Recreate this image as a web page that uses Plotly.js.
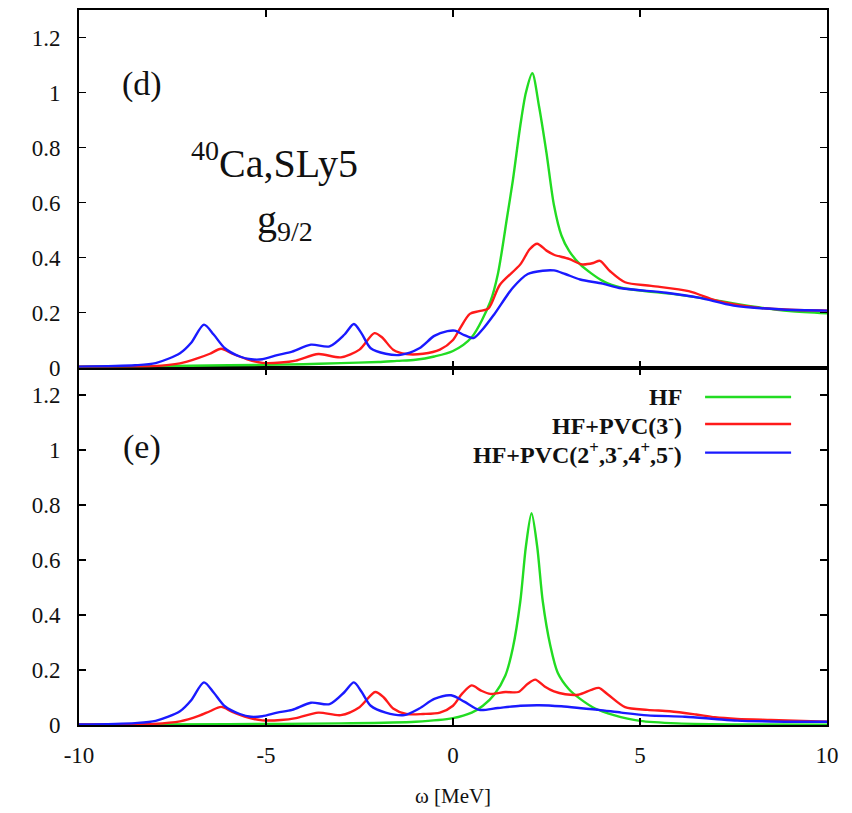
<!DOCTYPE html>
<html>
<head>
<meta charset="utf-8">
<script src="https://cdn.plot.ly/plotly-3.0.1.min.js"></script>
<style>html,body{margin:0;padding:0;background:#fff;}#chart{width:852px;height:813px;}</style>
</head>
<body>
<div id="chart"></div>
<script>
// ---- Panel (d): top ----
const d_hf_x = [-10,-8,-6,-4,-3,-2,-1.5,-1,-0.5,0,0.5,1.0,1.2,1.45,1.6,1.8,1.95,2.12,2.3,2.5,2.7,2.9,3.1,3.4,4.0,4.5,5,6,7,8,9,10];
const d_hf_y = [0.003,0.005,0.008,0.012,0.016,0.02,0.024,0.028,0.04,0.06,0.11,0.24,0.34,0.55,0.68,0.88,1.0,1.07,0.95,0.78,0.59,0.48,0.425,0.375,0.315,0.29,0.28,0.265,0.245,0.222,0.205,0.197];

const d_pvc3_x = [-10,-8,-7.3,-6.8,-6.5,-6.2,-5.9,-5.5,-5.1,-4.6,-4.2,-3.6,-3.0,-2.5,-2.1,-1.9,-1.6,-1.25,-0.8,-0.35,0,0.2,0.45,0.7,0.95,1.25,1.8,2.05,2.25,2.5,2.7,3.1,3.45,3.75,3.93,4.2,4.6,5.3,6.3,7.0,7.5,8.2,9,10];
const d_pvc3_y = [0.003,0.005,0.015,0.035,0.05,0.068,0.05,0.03,0.017,0.018,0.025,0.049,0.037,0.065,0.125,0.11,0.065,0.049,0.05,0.065,0.1,0.145,0.195,0.205,0.215,0.30,0.375,0.43,0.45,0.425,0.41,0.395,0.375,0.38,0.388,0.35,0.31,0.297,0.278,0.245,0.23,0.217,0.21,0.207];

const d_pvcall_x = [-10,-8.5,-7.95,-7.3,-7.0,-6.66,-6.4,-6.1,-5.7,-5.4,-5.1,-4.7,-4.3,-3.8,-3.3,-2.9,-2.65,-2.45,-2.2,-1.8,-1.4,-0.9,-0.5,-0.15,0.05,0.3,0.55,0.8,1.1,1.6,2.0,2.4,2.7,3.0,3.4,4.0,4.5,5.7,6.6,7.5,8.8,10];
const d_pvcall_y = [0.003,0.008,0.016,0.052,0.09,0.156,0.12,0.07,0.04,0.03,0.03,0.045,0.058,0.083,0.077,0.12,0.158,0.125,0.07,0.05,0.046,0.07,0.115,0.132,0.134,0.118,0.107,0.14,0.193,0.29,0.34,0.352,0.353,0.34,0.32,0.305,0.288,0.272,0.253,0.225,0.211,0.207];

// ---- Panel (e): bottom ----
const e_hf_x = [-10,-6,-3,-1,0,0.5,0.8,1.1,1.4,1.6,1.8,1.95,2.1,2.25,2.4,2.6,2.8,3.1,3.4,3.8,4.3,5,6,8,10];
const e_hf_y = [0.001,0.003,0.006,0.012,0.025,0.045,0.07,0.11,0.18,0.28,0.45,0.65,0.77,0.65,0.45,0.29,0.19,0.13,0.095,0.06,0.036,0.015,0.006,0.002,0.001];

const e_pvc3_x = [-10,-8,-7.3,-6.8,-6.5,-6.2,-5.9,-5.5,-5.1,-4.6,-4.2,-3.6,-3.0,-2.5,-2.08,-1.85,-1.6,-1.25,-0.8,-0.35,0,0.25,0.5,0.75,1.0,1.4,1.75,2.0,2.2,2.45,2.7,3.0,3.35,3.7,3.9,4.15,4.6,5.2,5.8,6.5,7.0,7.6,8.5,10];
const e_pvc3_y = [0.002,0.004,0.013,0.033,0.05,0.066,0.048,0.028,0.017,0.018,0.025,0.045,0.036,0.065,0.12,0.1,0.06,0.04,0.04,0.045,0.07,0.115,0.144,0.125,0.113,0.12,0.12,0.15,0.165,0.14,0.122,0.112,0.11,0.128,0.135,0.11,0.065,0.055,0.05,0.038,0.028,0.022,0.018,0.012];

const e_pvcall_x = [-10,-8.5,-7.95,-7.3,-7.0,-6.66,-6.4,-6.1,-5.7,-5.4,-5.1,-4.7,-4.3,-3.8,-3.3,-2.9,-2.65,-2.45,-2.2,-1.8,-1.3,-0.9,-0.5,-0.05,0.3,0.7,1.2,1.8,2.3,2.9,3.5,3.9,4.5,5.2,6.2,7.0,7.6,8.5,10];
const e_pvcall_y = [0.002,0.007,0.015,0.05,0.09,0.155,0.118,0.068,0.04,0.03,0.032,0.045,0.055,0.081,0.076,0.12,0.155,0.122,0.07,0.045,0.036,0.06,0.095,0.108,0.085,0.055,0.062,0.07,0.072,0.068,0.06,0.055,0.045,0.035,0.03,0.022,0.016,0.013,0.012];

const seriesNames = ['HF', 'HF+PVC(3<sup>-</sup>)', 'HF+PVC(2<sup>+</sup>,3<sup>-</sup>,4<sup>+</sup>,5<sup>-</sup>)'];
const seriesColors = ['#22dc22', '#ff1a1a', '#1a1aff'];
const yTicks = [0, 0.2, 0.4, 0.6, 0.8, 1, 1.2];
const yTickText = ['0', '0.2', '0.4', '0.6', '0.8', '1', '1.2'];
const xTicks = [-10, -5, 0, 5, 10];
const xTickText = ['-10', '-5', '0', '5', '10'];

const FONT = '"Liberation Serif", "Times New Roman", serif';

function tr(x, y, i, xa, ya) {
  return {x: x, y: y, type: 'scatter', mode: 'lines', name: seriesNames[i],
    xaxis: xa, yaxis: ya, showlegend: false,
    line: {color: seriesColors[i], width: 2.4, shape: 'spline', smoothing: 0.8}};
}

const data = [
  tr(d_hf_x, d_hf_y, 0, 'x2', 'y2'),
  tr(d_pvc3_x, d_pvc3_y, 1, 'x2', 'y2'),
  tr(d_pvcall_x, d_pvcall_y, 2, 'x2', 'y2'),
  tr(e_hf_x, e_hf_y, 0, 'x', 'y'),
  tr(e_pvc3_x, e_pvc3_y, 1, 'x', 'y'),
  tr(e_pvcall_x, e_pvcall_y, 2, 'x', 'y')
];

function axCommon() {
  return {
    showline: true, linecolor: '#000', linewidth: 2, mirror: 'ticks',
    ticks: 'inside', ticklen: 7, tickwidth: 1.5, tickcolor: '#000',
    showgrid: false, zeroline: false,
    tickfont: {family: FONT, size: 23, color: '#111'}
  };
}

const layout = {
  width: 852, height: 813,
  margin: {l: 79, r: 25, t: 10, b: 88},
  paper_bgcolor: '#fff', plot_bgcolor: '#fff',
  showlegend: false,
  font: {family: FONT, color: '#111'},
  xaxis: Object.assign(axCommon(), {
    anchor: 'y', range: [-10, 10], tickvals: xTicks, ticktext: xTickText, ticklabelstandoff: 8,
    title: {text: 'ω [MeV]', font: {family: FONT, size: 21, color: '#111'}, standoff: 22}
  }),
  xaxis2: Object.assign(axCommon(), {
    anchor: 'y2', range: [-10, 10], tickvals: xTicks, showticklabels: false, matches: 'x'
  }),
  yaxis: Object.assign(axCommon(), {
    anchor: 'x', domain: [0, 0.5], range: [0, 1.3], tickvals: yTicks, ticktext: yTickText, ticklabelstandoff: 12
  }),
  yaxis2: Object.assign(axCommon(), {
    anchor: 'x2', domain: [0.5, 1], range: [0, 1.3], tickvals: yTicks, ticktext: yTickText, ticklabelstandoff: 12
  }),
  annotations: [],
  shapes: []
};

const txt = (text, x, y, size, xanchor, weight) => ({
  text: text, xref: 'paper', yref: 'paper', x: x, y: y, showarrow: false,
  xanchor: xanchor || 'center', yanchor: 'middle',
  font: {family: FONT, size: size, color: '#111', weight: weight || 'normal'}
});

layout.annotations.push(txt('(d)', 0.084, 0.8965, 34));
layout.annotations.push(txt('(e)', 0.084, 0.389, 34));
layout.annotations.push(txt('<sup>40</sup>Ca,SLy5', 0.147, 0.79, 40, 'left'));
layout.annotations.push(txt('g<sub>9/2</sub>', 0.235, 0.7035, 40, 'left'));

// manual legend (text left of line sample, as in the original)
const legRowsY = [0.4587, 0.421, 0.381];
for (let i = 0; i < 3; i++) {
  layout.annotations.push(txt(seriesNames[i], 0.809, legRowsY[i], 24, 'right', 'bold'));
  layout.shapes.push({type: 'line', xref: 'paper', yref: 'paper',
    x0: 0.837, x1: 0.952, y0: legRowsY[i], y1: legRowsY[i],
    line: {color: seriesColors[i], width: 2.4}});
}

Plotly.newPlot('chart', data, layout, {displayModeBar: false, staticPlot: true});
</script>
</body>
</html>
